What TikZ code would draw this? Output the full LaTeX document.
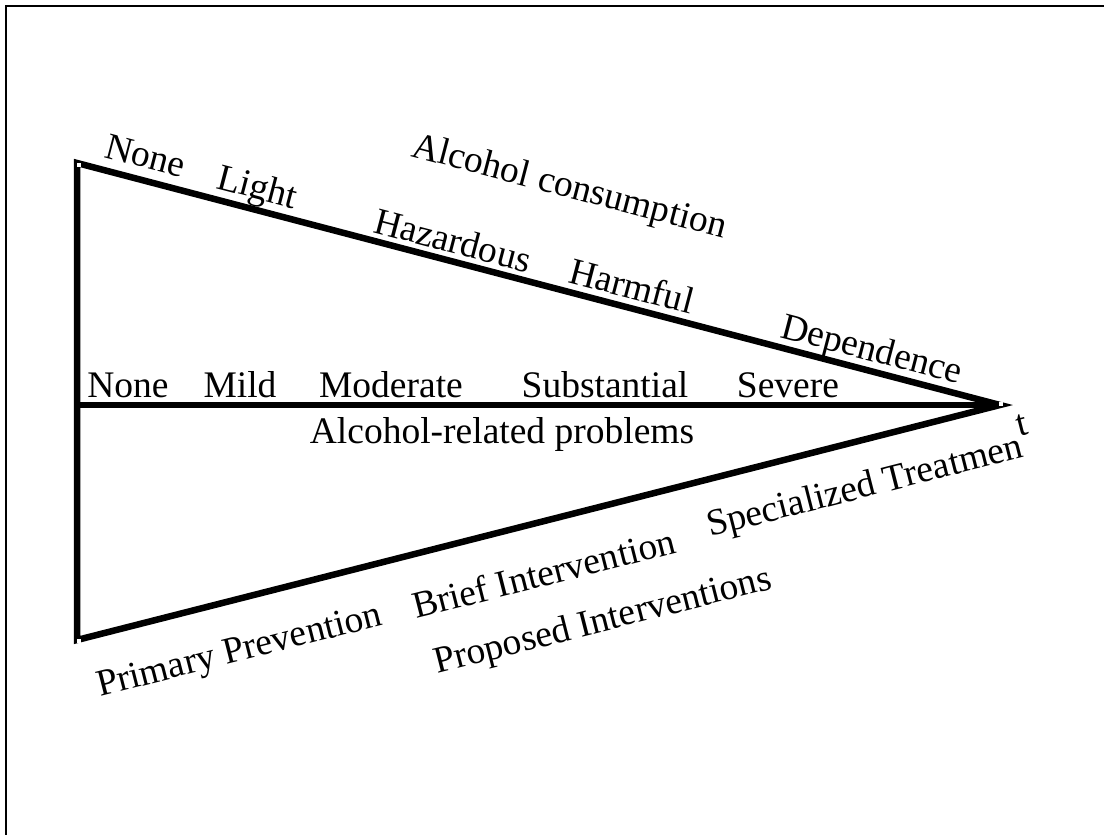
\documentclass[tikz,border=0pt]{standalone}
\usepackage{fontspec}
\setmainfont{Liberation Serif}
\usetikzlibrary{positioning}

\begin{document}
\begin{tikzpicture}[x=1pt,y=-1pt,
    lab/.style={inner sep=0pt,font=\fontsize{37.5}{45}\selectfont},
    up/.style={lab,anchor=base west,rotate=-14.69},
    down/.style={lab,anchor=base west,rotate=14.28},
    flat/.style={lab,anchor=base},
    edge/.style={line width=6.5pt,line join=miter},
    corner/.style={fill=white,minimum size=3.5pt,inner sep=0pt}]
    \useasboundingbox (0,0) rectangle (1104,835);
    \clip (0,0) rectangle (1104,835);
    \draw[line width=2.5pt] (6,6) rectangle (1120,850);
    % the wedge
    \coordinate (A) at (77,163);
    \coordinate (B) at (1000,405);
    \coordinate (C) at (77,405);
    \coordinate (D) at (77,640);
    \draw[edge] (A) -- (B) -- (D) -- cycle;
    \draw[edge] (C) -- (B);
    \node[corner] (cA) at (79,165) {};
    \node[corner] (cB) at (1001,404) {};
    \node[corner] (cD) at (79,641) {};
    % consumption
    \node[up] (c0) at (103,157) {None};
    \node[up] (c1) at (215,188) {Light};
    \node[up] (c2) at (372,232) {Hazardous};
    \node[up] (c3) at (567,282) {Harmful};
    \node[up] (c4) at (779,337) {Dependence};
    \node[up] (ctitle) at (410,156) {Alcohol consumption};
    % problems
    \node[flat] (p0) at (128,397) {None};
    \node[flat] (p1) at (240,397) {Mild};
    \node[flat] (p2) at (391,397) {Moderate};
    \node[flat] (p3) at (605,397) {Substantial};
    \node[flat] (p4) at (788,397) {Severe};
    \node[flat] (ptitle) at (502,443) {Alcohol-related problems};
    % interventions
    \node[down] (i0) at (100,697) {Primary Prevention};
    \node[down] (i1) at (416,619) {Brief Intervention};
    \node[down] (i2) at (710,537) {Specialized Treatmen};
    \node[down] (i2t) at (1019,437) {t};
    \node[down] (ititle) at (437,674) {Proposed Interventions};
\end{tikzpicture}
\end{document}
